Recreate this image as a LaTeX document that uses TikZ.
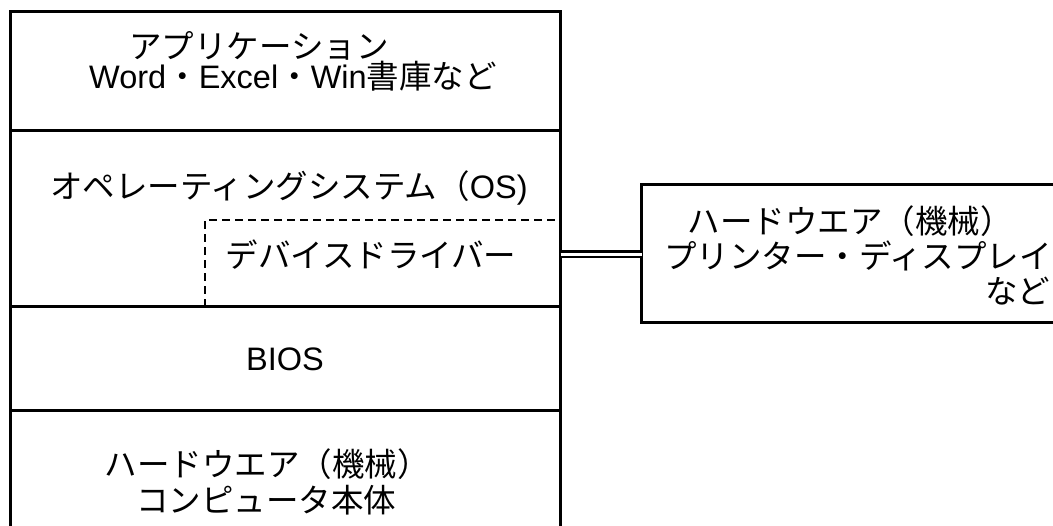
\documentclass[tikz,border=0pt]{standalone}
\usepackage{fontspec}
\setmainfont{Noto Sans CJK JP}
\newfontfamily\latfont{Liberation Sans}
\begin{document}
\begin{tikzpicture}[x=1pt,y=-1pt,
  layer/.style={draw, line width=3pt, rectangle, inner sep=0pt, outer sep=0pt, anchor=north west, minimum width=550.7pt},
  lbl/.style={inner sep=0pt, outer sep=0pt, anchor=base, text height=24pt, text depth=2pt, font=\fontsize{32.5}{32.5}\selectfont},
  drv/.style={line width=2.6pt, dash pattern=on 8pt off 5pt}]
\useasboundingbox (0,0) rectangle (1053,526);
\clip (0,0) rectangle (1053,526);
\fill[white] (0,0) rectangle (1053,526);
% left column
\node[layer, minimum height=119.3pt] (app) at (10,11.7) {};
\node[layer, minimum height=176pt] (os) at (10,131) {};
\node[layer, minimum height=104pt] (bios) at (10,307) {};
\node[layer, minimum height=140pt] (hw) at (10,411) {};
% right box
\node[layer, minimum width=430pt, minimum height=138pt] (dev) at (641.7,185) {};
% driver area (dashed)
\coordinate (d1) at (205,307);
\coordinate (d2) at (205,220);
\coordinate (d3) at (560.7,220);
\draw[drv] (d1) -- (d2) -- (d3);
% connector
\coordinate (cL) at (560.7,254.3);
\coordinate (cR) at (641.7,254.3);
\draw[line width=2.6pt, double, double distance=2.8pt] (cL) -- (cR);
% texts
\node[lbl] (t1) at (259,59) {アプリケーション};
\node[lbl] (t2) at (293,89) {\latfont Word\rmfamily ・\latfont Excel\rmfamily ・\latfont Win\rmfamily 書庫など};
\node[lbl] (t3) at (289,199) {オペレーティングシステム（\latfont OS)};
\node[lbl] (t4) at (371,268) {デバイスドライバー};
\node[lbl] (t5) at (285,371) {\latfont BIOS};
\node[lbl] (t6) at (267,477) {ハードウエア（機械）};
\node[lbl] (t7) at (266,513) {コンピュータ本体};
\node[lbl] (r1) at (850,234) {ハードウエア（機械）};
\node[lbl] (r2) at (858,269) {プリンター・ディスプレイ};
\node[lbl, anchor=base east] (r3) at (1050,304) {など};
\end{tikzpicture}
\end{document}
